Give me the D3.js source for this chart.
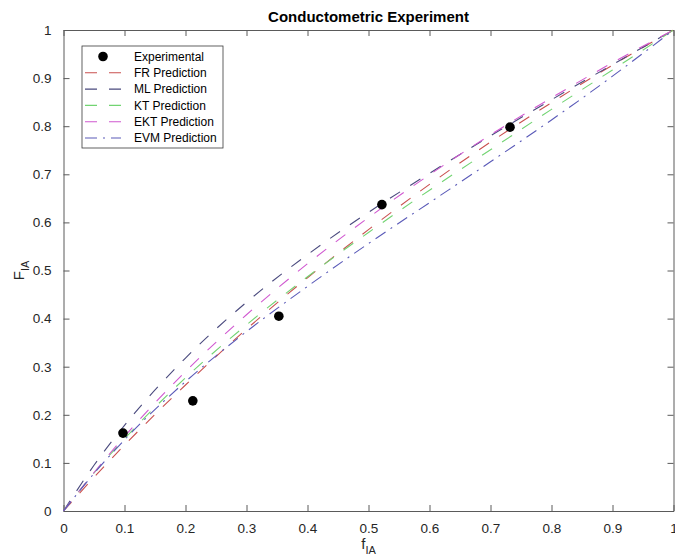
<!DOCTYPE html>
<html>
<head>
<meta charset="utf-8">
<script src="https://cdn.jsdelivr.net/npm/d3@7"></script>
<style>
  body { margin: 0; background: #fff; }
  svg { font-family: "Liberation Sans", Arial, Helvetica, sans-serif; }
  .tick text { font-size: 13.5px; fill: #262626; }
  .tick line, .domain { stroke: #5a5a5a; }
</style>
</head>
<body>
<div id="chart"></div>
<script>
// Monomer feed fraction f_IA (x positions the curves were read at)
const feed = [0, 0.05, 0.1, 0.2, 0.3, 0.4, 0.5, 0.6, 0.7, 0.8, 0.9, 1];

// Predicted copolymer fraction F_IA
const frValues  = [0, 0.070, 0.137, 0.262, 0.378, 0.485, 0.585, 0.679, 0.767, 0.849, 0.927, 1];
const mlValues  = [0, 0.095, 0.178, 0.318, 0.434, 0.533, 0.621, 0.702, 0.780, 0.855, 0.928, 1];
const ktValues  = [0, 0.079, 0.150, 0.277, 0.387, 0.487, 0.579, 0.667, 0.751, 0.835, 0.917, 1];
const ektValues = [0, 0.080, 0.155, 0.290, 0.408, 0.514, 0.610, 0.699, 0.782, 0.859, 0.932, 1];
const evmValues = [0, 0.078, 0.148, 0.269, 0.373, 0.467, 0.556, 0.641, 0.726, 0.813, 0.904, 1];

// Experimental points
const expF = [0.0975, 0.212, 0.353, 0.522, 0.732];
const expY = [0.162, 0.229, 0.405, 0.637, 0.798];

const xTicks = [0, 0.1, 0.2, 0.3, 0.4, 0.5, 0.6, 0.7, 0.8, 0.9, 1];
const yTicks = [0, 0.1, 0.2, 0.3, 0.4, 0.5, 0.6, 0.7, 0.8, 0.9, 1];

const series = [
  { name: 'FR Prediction',  values: frValues,  color: '#c9504f', dash: '12,12' },
  { name: 'ML Prediction',  values: mlValues,  color: '#4a4a7e', dash: '12,12' },
  { name: 'KT Prediction',  values: ktValues,  color: '#72d472', dash: '12,12' },
  { name: 'EKT Prediction', values: ektValues, color: '#d058d0', dash: '12,12' },
  { name: 'EVM Prediction', values: evmValues, color: '#5a5ab8', dash: '12,6,2,6' }
];

const width = 675;
const height = 559;
const plot = { left: 63.5, right: 673.5, top: 30, bottom: 511 };

const x = d3.scaleLinear().domain([0, 1]).range([plot.left, plot.right]);
const y = d3.scaleLinear().domain([0, 1]).range([plot.bottom, plot.top]);

const svg = d3.select('#chart')
  .append('svg')
    .attr('width', width)
    .attr('height', height);

// Axes on all four sides, ticks pointing inward
const tickLen = 6;
const fmt = d => d === 0 || d === 1 ? String(d) : d3.format('.1f')(d);

svg.append('g')
    .attr('transform', `translate(0, ${plot.bottom})`)
    .call(d3.axisBottom(x).tickValues(xTicks).tickFormat(fmt).tickSizeInner(-tickLen).tickSizeOuter(0).tickPadding(12));

svg.append('g')
    .attr('transform', `translate(0, ${plot.top})`)
    .call(d3.axisTop(x).tickValues(xTicks).tickFormat('').tickSizeInner(-tickLen).tickSizeOuter(0));

svg.append('g')
    .attr('transform', `translate(${plot.left}, 0)`)
    .call(d3.axisLeft(y).tickValues(yTicks).tickFormat(fmt).tickSizeInner(-tickLen).tickSizeOuter(0).tickPadding(12));

svg.append('g')
    .attr('transform', `translate(${plot.right}, 0)`)
    .call(d3.axisRight(y).tickValues(yTicks).tickFormat('').tickSizeInner(-tickLen).tickSizeOuter(0));

// Prediction curves
const line = d3.line()
    .x((d, i) => x(feed[i]))
    .y(d => y(d))
    .curve(d3.curveMonotoneX);

svg.append('g')
  .selectAll('path')
  .data(series)
  .join('path')
    .attr('d', d => line(d.values))
    .attr('fill', 'none')
    .attr('stroke', d => d.color)
    .attr('stroke-width', 1.1)
    .attr('stroke-dasharray', d => d.dash);

// Experimental points
svg.append('g')
  .selectAll('circle')
  .data(expF)
  .join('circle')
    .attr('cx', d => x(d))
    .attr('cy', (d, i) => y(expY[i]))
    .attr('r', 4.8)
    .attr('fill', '#000');

// Title
svg.append('text')
    .attr('x', (plot.left + plot.right) / 2)
    .attr('y', 22)
    .attr('text-anchor', 'middle')
    .attr('font-size', 15)
    .attr('font-weight', 'bold')
    .text('Conductometric Experiment');

// Axis titles
const xTitle = svg.append('text')
    .attr('x', (plot.left + plot.right) / 2)
    .attr('y', 549)
    .attr('text-anchor', 'middle')
    .attr('font-size', 15)
    .attr('fill', '#262626');
xTitle.append('tspan').text('f');
xTitle.append('tspan').attr('font-size', 11).attr('dy', 5).text('IA');

const yTitle = svg.append('text')
    .attr('transform', `translate(24, ${(plot.top + plot.bottom) / 2}) rotate(-90)`)
    .attr('text-anchor', 'middle')
    .attr('font-size', 15)
    .attr('fill', '#262626');
yTitle.append('tspan').text('F');
yTitle.append('tspan').attr('font-size', 11).attr('dy', 5).text('IA');

// Legend
const legend = svg.append('g').attr('transform', 'translate(82, 46)');
legend.append('rect')
    .attr('width', 141)
    .attr('height', 102)
    .attr('fill', '#fff')
    .attr('stroke', '#3a3a3a')
    .attr('stroke-width', 0.8);

const rowY = d3.scaleLinear().domain([0, 5]).range([10.5, 92]);

legend.append('circle')
    .attr('cx', 21)
    .attr('cy', rowY(0))
    .attr('r', 4.8)
    .attr('fill', '#000');
legend.append('text')
    .attr('x', 52)
    .attr('y', rowY(0))
    .attr('dy', '0.35em')
    .attr('font-size', 12)
    .text('Experimental');

legend.selectAll('.entry')
  .data(series)
  .join('g')
    .attr('class', 'entry')
    .attr('transform', (d, i) => `translate(0, ${rowY(i + 1)})`)
    .each(function(d) {
      const g = d3.select(this);
      g.append('line')
          .attr('x1', 3).attr('x2', 39)
          .attr('stroke', d.color)
          .attr('stroke-width', 1.1)
          .attr('stroke-dasharray', d.dash);
      g.append('text')
          .attr('x', 52)
          .attr('dy', '0.35em')
          .attr('font-size', 12)
          .text(d.name);
    });
</script>
</body>
</html>
